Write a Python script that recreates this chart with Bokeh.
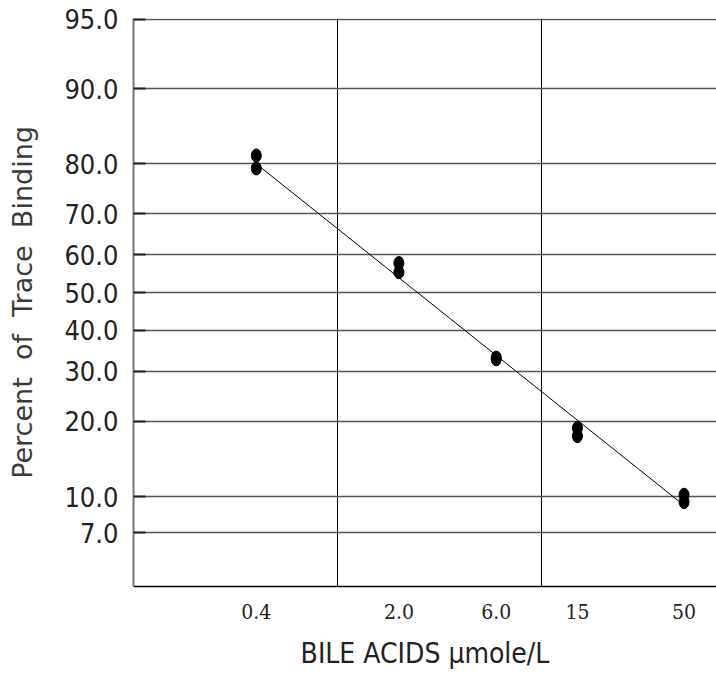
import numpy as np
from bokeh.plotting import figure
from bokeh.models import FixedTicker, Range1d
from bokeh.embed import file_html
from bokeh.resources import INLINE

# Data (concentration in umol/L, percent of trace binding)
conc = [0.4, 0.4, 2.0, 2.0, 6.0, 6.0, 15, 15, 50, 50]
percent = [81.4, 79.2, 57.9, 55.5, 33.2, 32.8, 18.9, 17.6, 10.2, 9.5]

fit_conc = [0.4, 50]
fit_percent = [80.0, 9.2]

x_ticks = [0.4, 2.0, 6.0, 15, 50]
x_tick_labels = ["0.4", "2.0", "6.0", "15", "50"]
x_grid = [1, 10]

y_ticks = [7, 10, 20, 30, 40, 50, 60, 70, 80, 90, 95]
y_tick_labels = ["7.0", "10.0", "20.0", "30.0", "40.0", "50.0", "60.0", "70.0", "80.0", "90.0", "95.0"]


def logit(p):
    p = np.asarray(p, dtype=float) / 100.0
    return np.log(p / (1 - p))


y_tick_pos = [float(v) for v in logit(y_ticks)]

p = figure(width=716, height=679, x_axis_type="log",
           x_range=Range1d(0.1, 72.1), y_range=Range1d(float(logit(4.06)), float(logit(95.03))),
           output_backend="svg", toolbar_location=None,
           min_border_left=133, min_border_right=0, min_border_top=18, min_border_bottom=93)
p.outline_line_color = None
p.background_fill_color = "white"

# axes
p.xaxis.ticker = FixedTicker(ticks=x_ticks)
p.xaxis.major_label_overrides = {t: l for t, l in zip(x_ticks, x_tick_labels)}
p.xaxis.major_tick_line_color = None
p.xaxis.minor_tick_line_color = None
p.xaxis.major_label_standoff = 11
p.xaxis.major_label_text_font = "DejaVu Serif Condensed"
p.xaxis.major_label_text_font_size = "21px"
p.xaxis.major_label_text_color = "#222222"
p.xaxis.axis_line_color = "black"
p.xaxis.axis_line_width = 1.5
p.xaxis.axis_label = "BILE ACIDS \u03bcmole/L"
p.xaxis.axis_label_text_font = "DejaVu Sans Condensed"
p.xaxis.axis_label_text_font_style = "normal"
p.xaxis.axis_label_text_font_size = "28px"
p.xaxis.axis_label_text_color = "#222222"
p.xaxis.axis_label_standoff = 15

p.yaxis.ticker = FixedTicker(ticks=y_tick_pos)
p.yaxis.major_label_overrides = {t: l for t, l in zip(y_tick_pos, y_tick_labels)}
p.yaxis.major_tick_in = 12
p.yaxis.major_tick_out = 0
p.yaxis.major_tick_line_color = "#222222"
p.yaxis.major_tick_line_width = 2
p.yaxis.minor_tick_line_color = None
p.yaxis.major_label_standoff = 15
p.yaxis.major_label_text_font = "DejaVu Sans Condensed"
p.yaxis.major_label_text_font_size = "27px"
p.yaxis.major_label_text_color = "#222222"
p.yaxis.axis_line_color = "#777777"
p.yaxis.axis_line_width = 2
p.yaxis.axis_label = "Percent\u00a0 of\u00a0 Trace\u00a0 Binding"
p.yaxis.axis_label_text_font = "DejaVu Sans"
p.yaxis.axis_label_text_font_style = "normal"
p.yaxis.axis_label_text_font_size = "27px"
p.yaxis.axis_label_text_color = "#3a3a3a"
p.yaxis.axis_label_standoff = 23

# grids
p.xgrid.ticker = FixedTicker(ticks=x_grid)
p.xgrid.grid_line_color = "black"
p.xgrid.grid_line_width = 1
p.ygrid.ticker = FixedTicker(ticks=y_tick_pos)
p.ygrid.grid_line_color = "#555555"
p.ygrid.grid_line_width = 1.5

# fit line and points
p.line(fit_conc, logit(fit_percent), line_color="black", line_width=1)
p.ellipse(x=conc, y=logit(percent), width=10, height=13,
          width_units="screen", height_units="screen",
          fill_color="black", line_color="black")

open("out.html", "w").write(file_html(p, INLINE))
